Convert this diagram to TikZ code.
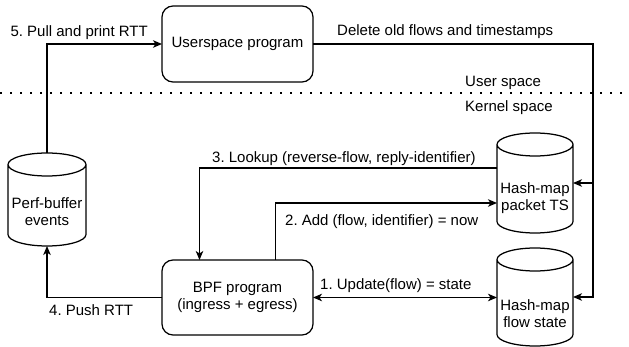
\documentclass[tikz,border=0pt]{standalone}
\usepackage{fontspec}
\setmainfont{Liberation Sans}
\frenchspacing
\usetikzlibrary{arrows.meta,calc}
\tikzset{
  lw/.style={line width=1.25pt},
  tipx/.tip={Stealth[length=9pt,width=7.5pt,inset=2.5pt]},
  arr/.style={lw,-tipx},
  darr/.style={lw,tipx-tipx},
  proc/.style={draw,lw,rounded corners=11pt,minimum width=151pt,minimum height=76pt,
    inner sep=0pt,outer sep=0pt,align=center,font=\fontsize{15}{17}\selectfont},
  cylbox/.style={inner sep=0pt,outer sep=0pt},
  txt/.style={inner sep=0pt,font=\fontsize{15}{17}\selectfont,align=center},
  lbl/.style={txt,text height=10.5pt,text depth=3pt},
}
\newcommand\mycyl[1]{%
  \draw[lw,fill=white] let \p1=(#1.north west), \p2=(#1.south east), \n1={(\x2-\x1)/2} in
    (\x1,{\y1-11.5pt}) -- (\x1,{\y2+11.5pt})
    arc[start angle=180,end angle=360,x radius=\n1,y radius=11.5pt]
    -- (\x2,{\y1-11.5pt})
    arc[start angle=0,end angle=180,x radius=\n1,y radius=11.5pt] -- cycle
    ({\x1+\n1},{\y1-11.5pt}) ellipse[x radius=\n1,y radius=11.5pt];}
\begin{document}
\begin{tikzpicture}[x=1pt,y=-1pt]
\useasboundingbox (0,0) rectangle (629,347);

% separator
\coordinate (sepL) at (0,93.5);
\coordinate (sepR) at (629,93.5);
\draw[line width=2pt,dash pattern=on 2pt off 8pt] (sepL) -- (sepR);

% process boxes
\node[proc] (usp) at (237.5,44) {Userspace program};
\node[proc,minimum height=75pt] (bpf) at (237.5,297.5) {\frenchspacing BPF program\\(ingress + egress)};

% cylinders
\node[cylbox,minimum width=78pt,minimum height=93pt] (pb) at (47,199.5) {};
\node[cylbox,minimum width=76pt,minimum height=100pt] (pts) at (535,183) {};
\node[cylbox,minimum width=76pt,minimum height=98pt] (fs) at (535,297) {};
\mycyl{pb}
\mycyl{pts}
\mycyl{fs}
\node[txt] (pb-t) at ([yshift=-12pt]pb.center) {Perf-buffer\\events};
\node[txt] (pts-t) at ([yshift=-15.5pt]pts.center) {Hash-map\\packet TS};
\node[txt] (fs-t) at ([yshift=-17pt]fs.center) {Hash-map\\flow state};

% right bus
\coordinate (rj) at (593,0);

% connectors
\draw[arr] (pb.north) |- (usp.west);
\draw[arr] (usp.east) -| (rj |- fs.east) -- (fs.east);
\draw[arr] (rj |- pts.east) -- (pts.east);
\draw[arr] ([yshift=15pt]pts.west) -| ([xshift=-38pt]bpf.north);
\draw[arr] ([xshift=38pt]bpf.north) |- ([yshift=-20pt]pts.west);
\draw[arr] (bpf.west) -| (pb.south);
\draw[darr] (bpf.east) -- (bpf.east -| fs.west);

% labels
\node[lbl,anchor=east] (l5) at (148,33) {\frenchspacing 5. Pull and print RTT};
\node[lbl,anchor=west] (ld) at (337,32) {Delete old flows and timestamps};
\node[lbl,anchor=west] (lu) at (465,83) {User space};
\node[lbl,anchor=west] (lk) at (465,108) {Kernel space};
\node[lbl,anchor=west] (l3) at (212,159) {\frenchspacing 3. Lookup (reverse-flow, reply-identifier)};
\node[lbl,anchor=west] (l2) at (285,222) {\frenchspacing 2. Add (flow, identifier) = now};
\node[lbl,anchor=west] (l1) at (320,286) {\frenchspacing 1. Update(flow) = state};
\node[lbl,anchor=west] (l4) at (49,312) {\frenchspacing 4. Push RTT};
\end{tikzpicture}
\end{document}
